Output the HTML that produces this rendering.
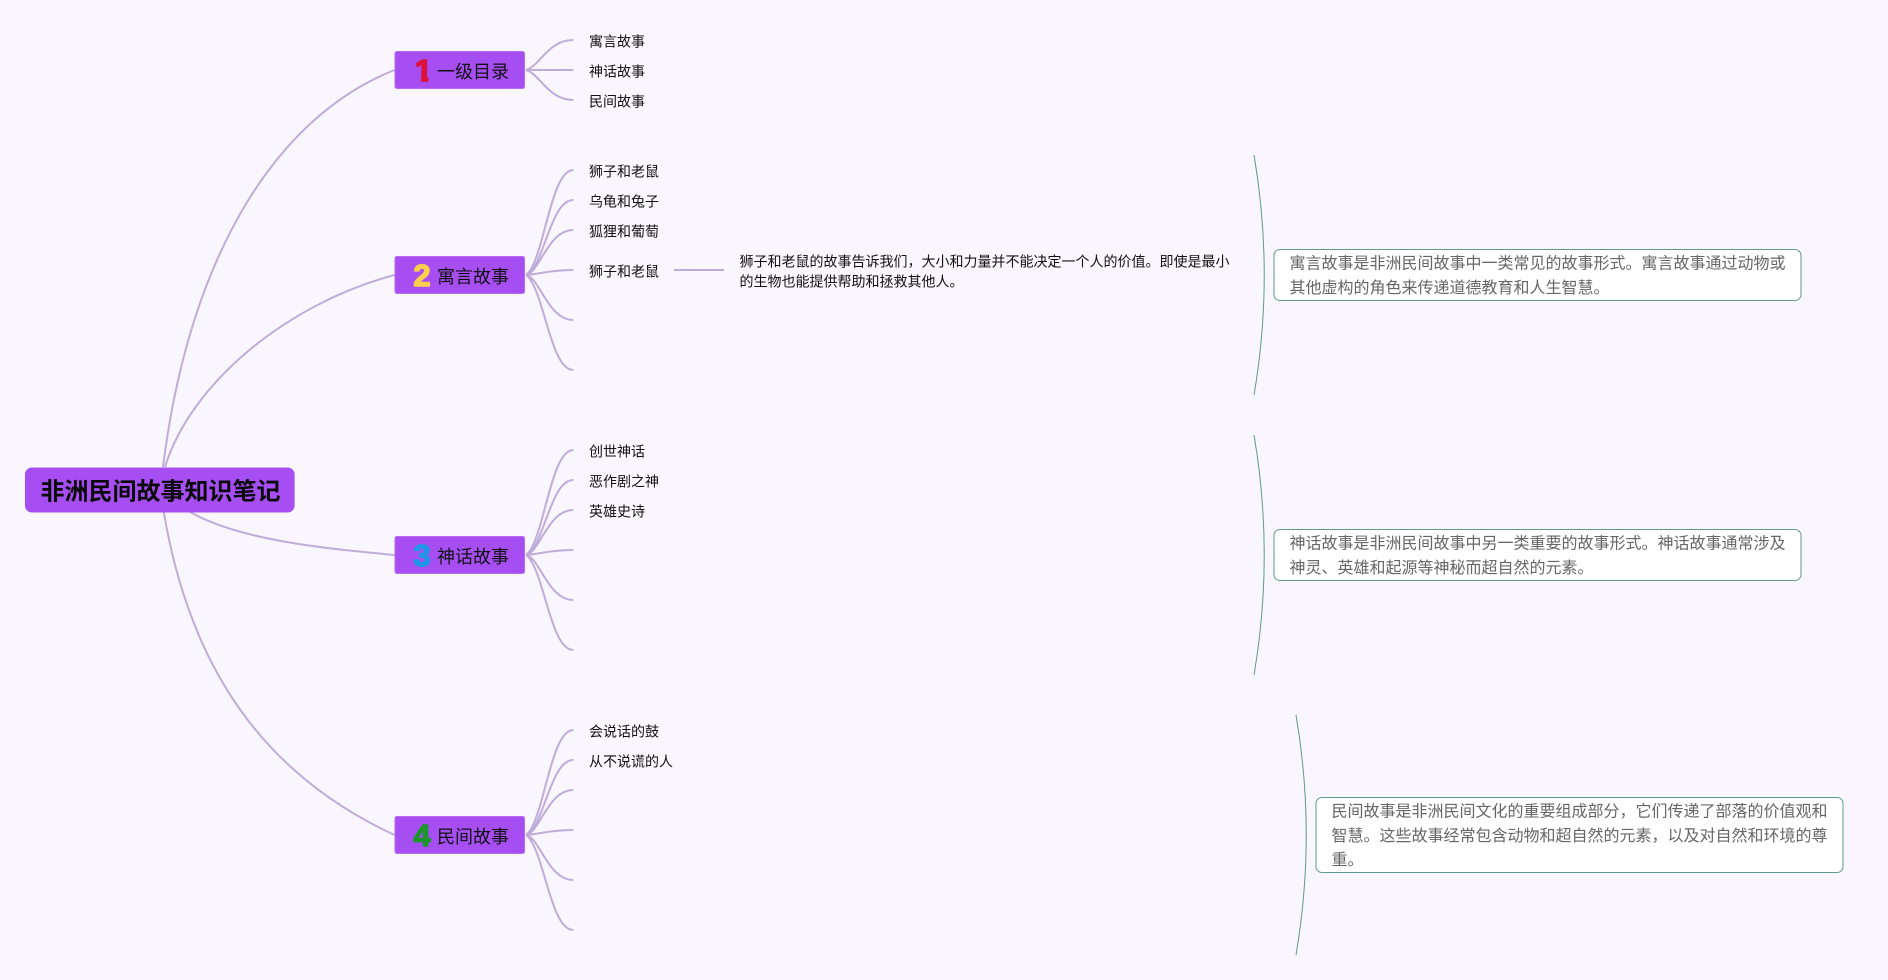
<!DOCTYPE html>
<html>
<head>
<meta charset="utf-8">
<style>
html,body{margin:0;padding:0;background:#f9f6fd;width:1888px;height:980px;overflow:hidden}
svg{display:block}
text{font-family:"Liberation Sans","Noto Sans CJK SC",sans-serif}
.c{font-size:14px;fill:#111}
.n{font-size:18px;fill:#111}
.g{font-size:16px;fill:#666}
.d{font-family:"Liberation Sans",sans-serif;font-size:31px;font-weight:700;stroke-width:1.5;stroke-linejoin:round;text-anchor:middle}
</style>
</head>
<body>
<svg width="1888" height="980" viewBox="0 0 1888 980" xmlns="http://www.w3.org/2000/svg">
<defs><clipPath id="one"><polygon points="416,56 428.500,56 428.500,83 421,83 421,67 416,67"/></clipPath></defs>
<rect width="1888" height="980" fill="#f9f6fd"/>
<g fill="none" stroke="#c0acda" stroke-width="2">
<path d="M163 467 C190 250 280 115 394.600 70"/>
<path d="M165 467 C190 385 285 304 394.600 275"/>
<path d="M190 512 C240 540 320 548 394.600 555"/>
<path d="M163.400 510 C190 670 265 775 394.600 835"/>
<path d="M526 70 C540 66 548 40 573.300 40"/>
<path d="M526 70 H573.300"/>
<path d="M526 70 C540 74 548 100 573.300 100"/>
<path d="M526 275 C544 262 550 170 573.300 170"/>
<path d="M526 275 C544 268 550 200 573.300 200"/>
<path d="M526 275 C540 272 548 230 573.300 230"/>
<path d="M526 275 C540 274 550 270 573.300 270"/>
<path d="M526 275 C540 278 548 320 573.300 320"/>
<path d="M526 275 C544 288 550 370 573.300 370"/>
<path d="M674 270 H724"/>
<path d="M526 555 C544 542 550 450 573.300 450"/>
<path d="M526 555 C544 548 550 480 573.300 480"/>
<path d="M526 555 C540 552 548 510 573.300 510"/>
<path d="M526 555 C540 554 550 550 573.300 550"/>
<path d="M526 555 C540 558 548 600 573.300 600"/>
<path d="M526 555 C544 568 550 650 573.300 650"/>
<path d="M526 835 C544 822 550 730 573.300 730"/>
<path d="M526 835 C544 828 550 760 573.300 760"/>
<path d="M526 835 C540 832 548 790 573.300 790"/>
<path d="M526 835 C540 834 550 830 573.300 830"/>
<path d="M526 835 C540 838 548 880 573.300 880"/>
<path d="M526 835 C544 848 550 930 573.300 930"/>
</g>
<g fill="none" stroke="#5f9a8f" stroke-width="1">
<path d="M1254 155 Q1274.500 275 1254 395"/>
<path d="M1254 435 Q1274.500 555 1254 675"/>
<path d="M1296 715 Q1316.500 835 1296 955"/>
</g>
<rect x="25" y="467.500" width="269.600" height="45" rx="7" fill="#a64ef2"/>
<text x="40.500" y="499.500" font-size="24" font-weight="700" fill="#0a0a0a">非洲民间故事知识笔记</text>
<g fill="#a64ef2" stroke="#b56cf2" stroke-width="1">
<rect x="395" y="51.500" width="129.500" height="37" rx="2"/>
<rect x="395" y="256.500" width="129.500" height="37" rx="2"/>
<rect x="395" y="536.500" width="129.500" height="37" rx="2"/>
<rect x="395" y="816.500" width="129.500" height="37" rx="2"/>
</g>
<text class="d" x="423.500" y="81" fill="#dc1238" stroke="#dc1238" clip-path="url(#one)">1</text>
<text class="d" x="422" y="286" fill="#f8d04c" stroke="#f8d04c">2</text>
<text class="d" x="422" y="566" fill="#2196e6" stroke="#2196e6">3</text>
<text class="d" x="422" y="846" fill="#1c962c" stroke="#1c962c">4</text>
<text class="n" x="437" y="78">一级目录</text>
<text class="n" x="437" y="283">寓言故事</text>
<text class="n" x="437" y="563">神话故事</text>
<text class="n" x="437" y="843">民间故事</text>
<text class="c" x="589" y="46.500">寓言故事</text>
<text class="c" x="589" y="76.500">神话故事</text>
<text class="c" x="589" y="106.500">民间故事</text>
<text class="c" x="589" y="176.500">狮子和老鼠</text>
<text class="c" x="589" y="206.500">乌龟和兔子</text>
<text class="c" x="589" y="236.500">狐狸和葡萄</text>
<text class="c" x="589" y="276.500">狮子和老鼠</text>
<text class="c" x="589" y="456.500">创世神话</text>
<text class="c" x="589" y="486.500">恶作剧之神</text>
<text class="c" x="589" y="516.500">英雄史诗</text>
<text class="c" x="589" y="736.500">会说话的鼓</text>
<text class="c" x="589" y="766.500">从不说谎的人</text>
<text class="c" x="739.500" y="266.700">狮子和老鼠的故事告诉我们，大小和力量并不能决定一个人的价值。即使是最小</text>
<text class="c" x="739.500" y="286.700">的生物也能提供帮助和拯救其他人。</text>
<g fill="#ffffff" stroke="#5f9a8f" stroke-width="1">
<rect x="1274" y="249.500" width="527" height="51" rx="6"/>
<rect x="1274" y="529.500" width="527" height="51" rx="6"/>
<rect x="1316" y="797.500" width="527" height="75" rx="6"/>
</g>
<text class="g" x="1289.500" y="268.500">寓言故事是非洲民间故事中一类常见的故事形式。寓言故事通过动物或</text>
<text class="g" x="1289.500" y="292.800">其他虚构的角色来传递道德教育和人生智慧。</text>
<text class="g" x="1289.500" y="548.500">神话故事是非洲民间故事中另一类重要的故事形式。神话故事通常涉及</text>
<text class="g" x="1289.500" y="572.800">神灵、英雄和起源等神秘而超自然的元素。</text>
<text class="g" x="1331.500" y="816.500">民间故事是非洲民间文化的重要组成部分，它们传递了部落的价值观和</text>
<text class="g" x="1331.500" y="840.800">智慧。这些故事经常包含动物和超自然的元素，以及对自然和环境的尊</text>
<text class="g" x="1331.500" y="865.100">重。</text>
</svg>
</body>
</html>
